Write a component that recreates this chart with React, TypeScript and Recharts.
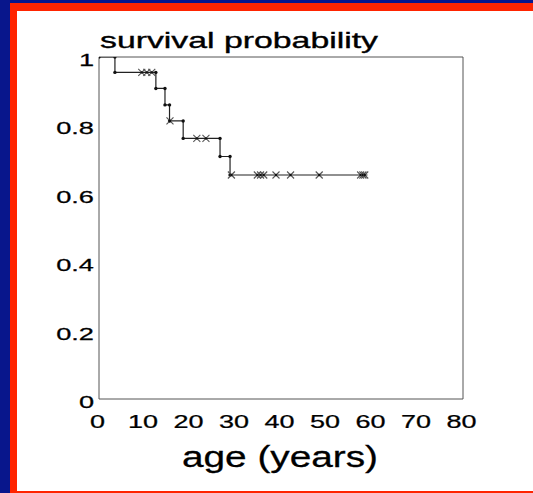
import React from "react";
import { ComposedChart, Line, Scatter, XAxis, YAxis, ReferenceArea } from "recharts";

const xTicks = [0, 10, 20, 30, 40, 50, 60, 70, 80];
const yTicks = [0, 0.2, 0.4, 0.6, 0.8, 1];
const yTickLabels = ["0", "0.2", "0.4", "0.6", "0.8", "1"];

const eventAges = [3.5, 12.5, 14.5, 15.5, 18.5, 26.6, 28.8];
const eventSurvival = [0.955, 0.908, 0.86, 0.813, 0.762, 0.709, 0.655];
const followUpEnd = 59;

const censorAges = [9.4, 10.5, 11.6, 15.6, 21.5, 23.5, 29.1, 34.8, 35.5, 36.2, 38.9, 42.1, 48.4, 57.5, 58.0, 58.4];
const censorSurvival = [0.955, 0.955, 0.955, 0.813, 0.762, 0.762, 0.655, 0.655, 0.655, 0.655, 0.655, 0.655, 0.655, 0.655, 0.655, 0.655];

const stepData = [
  { x: 0, y: 1 },
  ...eventAges.map((a, i) => ({ x: a, y: eventSurvival[i] })),
  { x: followUpEnd, y: eventSurvival[eventSurvival.length - 1] },
];

const cornerData: { x: number; y: number }[] = [{ x: 0, y: 1 }];
eventAges.forEach((a, i) => {
  cornerData.push({ x: a, y: i === 0 ? 1 : eventSurvival[i - 1] });
  cornerData.push({ x: a, y: eventSurvival[i] });
});

const censorData = censorAges.map((a, i) => ({ x: a, y: censorSurvival[i] }));

const FONT = "'Liberation Sans', Arial, Helvetica, sans-serif";

const renderXTick = (props: any) => {
  const { x, y, payload } = props;
  return (
    <text
      transform={`translate(${x - 1.5},${y + 29}) scale(1.5,1)`}
      x={0}
      y={0}
      textAnchor="middle"
      fontSize={18}
      fontFamily={FONT}
      fill="#000"
      stroke="#000"
      strokeWidth={0.25}
    >
      {payload.value}
    </text>
  );
};

const renderYTick = (props: any) => {
  const { x, y, payload } = props;
  const idx = yTicks.indexOf(payload.value);
  return (
    <text
      transform={`translate(${x - 5},${y + 9}) scale(1.6,1)`}
      x={0}
      y={0}
      textAnchor="end"
      fontSize={17}
      fontFamily={FONT}
      fill="#000"
      stroke="#000"
      strokeWidth={0.25}
    >
      {idx >= 0 ? yTickLabels[idx] : payload.value}
    </text>
  );
};

const Dot = (p: any) => <circle cx={p.cx} cy={p.cy} r={1.7} fill="#111" />;

const Cross = (p: any) => {
  const s = 3.5;
  return (
    <g>
      <line x1={p.cx - s} y1={p.cy - s} x2={p.cx + s} y2={p.cy + s} stroke="#555" strokeWidth={1.1} />
      <line x1={p.cx - s} y1={p.cy + s} x2={p.cx + s} y2={p.cy - s} stroke="#555" strokeWidth={1.1} />
      <circle cx={p.cx} cy={p.cy} r={1.2} fill="#111" />
    </g>
  );
};

const RED = "#ff2400";

export default function App() {
  return (
    <div style={{ position: "fixed", left: 0, top: 0, width: 533, height: 493, background: "#ffffff", overflow: "hidden" }}>
      <div style={{ position: "absolute", left: 0, top: 0, width: 10, height: 493, background: "#08168c" }} />
      <div style={{ position: "absolute", left: 0, top: 0, width: 533, height: 3, background: "#08168c" }} />
      <div style={{ position: "absolute", left: 10, top: 3, width: 7, height: 490, background: RED }} />
      <div style={{ position: "absolute", left: 10, top: 3, width: 523, height: 8, background: RED }} />
      <div style={{ position: "absolute", left: 10, top: 491, width: 523, height: 2, background: RED }} />
      <div style={{ position: "absolute", left: 0, top: 0 }}>
        <ComposedChart width={533} height={493} margin={{ top: 57, right: 70, bottom: 93, left: 98 }}>
          <XAxis
            dataKey="x"
            type="number"
            domain={[0, 80]}
            ticks={xTicks}
            interval={0}
            height={1}
            tickSize={0}
            tickMargin={0}
            axisLine={false}
            tickLine={false}
            tick={renderXTick}
            allowDataOverflow
          />
          <YAxis
            type="number"
            domain={[0, 1]}
            ticks={yTicks}
            interval={0}
            width={1}
            tickSize={0}
            tickMargin={0}
            axisLine={false}
            tickLine={false}
            tick={renderYTick}
            allowDataOverflow
          />
          <ReferenceArea x1={0} x2={80} y1={0} y2={1} fill="none" stroke="#555" strokeWidth={1} ifOverflow="visible" />
          <Line
            data={stepData}
            dataKey="y"
            type="stepAfter"
            stroke="#222"
            strokeWidth={1.2}
            dot={false}
            activeDot={false}
            isAnimationActive={false}
          />
          <Scatter data={cornerData} dataKey="y" shape={<Dot />} isAnimationActive={false} />
          <Scatter data={censorData} dataKey="y" shape={<Cross />} isAnimationActive={false} />
        </ComposedChart>
      </div>
      <svg width={533} height={493} style={{ position: "absolute", left: 0, top: 0, pointerEvents: "none" }}>
        <text x={100} y={48} fontSize={22} fontFamily={FONT} fill="#000" stroke="#000" strokeWidth={0.35} textLength={278} lengthAdjust="spacingAndGlyphs">
          survival probability
        </text>
        <text x={182} y={467} fontSize={30} fontFamily={FONT} fill="#000" stroke="#000" strokeWidth={0.3} textLength={196} lengthAdjust="spacingAndGlyphs">
          age (years)
        </text>
      </svg>
    </div>
  );
}
